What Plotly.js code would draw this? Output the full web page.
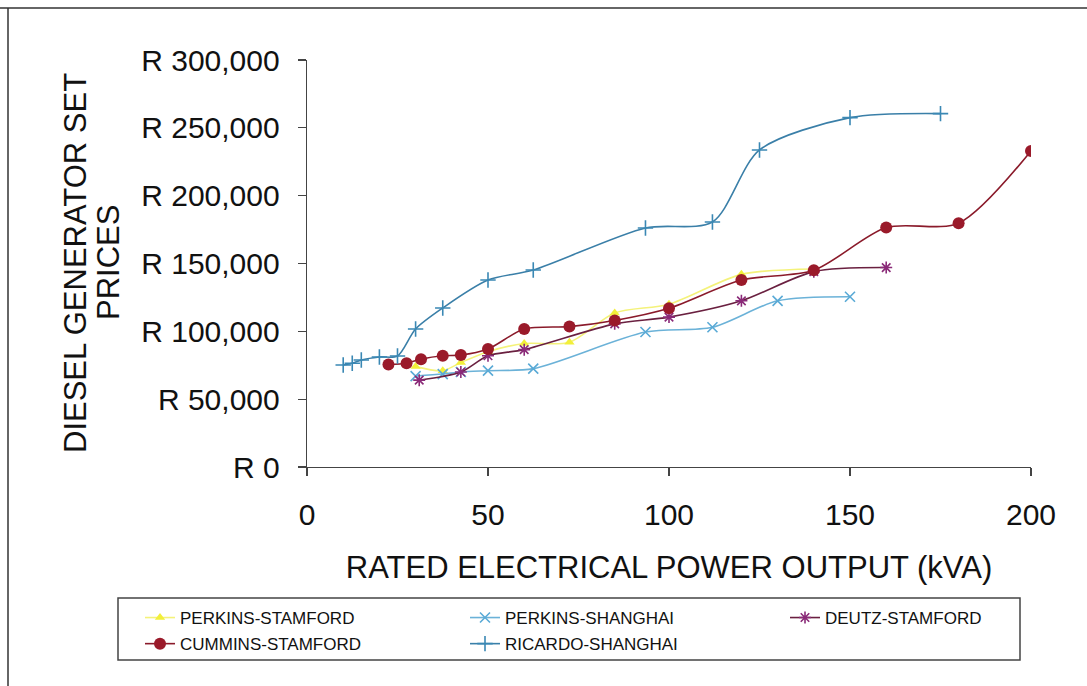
<!DOCTYPE html>
<html>
<head>
<meta charset="utf-8">
<script src="https://cdn.plot.ly/plotly-3.0.1.min.js"></script>
<style>html,body{margin:0;padding:0;background:#fff;}#chart{width:1087px;height:686px;}</style>
</head>
<body>
<div id="chart"></div>
<script>
// ---- data (kVA, Rand) ----
const seriesNames = ["PERKINS-STAMFORD", "PERKINS-SHANGHAI", "DEUTZ-STAMFORD", "CUMMINS-STAMFORD", "RICARDO-SHANGHAI"];

const perkinsStamfordKva   = [30, 37.5, 42.5, 50, 60, 72.5, 85, 100, 120, 140];
const perkinsStamfordPrice = [74000, 71000, 77000, 85000, 91000, 92000, 113500, 120000, 142000, 146000];

const perkinsShanghaiKva   = [30, 37.5, 42.5, 50, 62.5, 93.5, 112, 130, 150];
const perkinsShanghaiPrice = [67000, 68500, 70000, 71000, 72500, 99500, 103000, 122500, 125500];

const deutzStamfordKva   = [31, 42.5, 50, 60, 85, 100, 120, 140, 160];
const deutzStamfordPrice = [64000, 70000, 82000, 86500, 105500, 110500, 122500, 144000, 147000];

const cumminsStamfordKva   = [22.5, 27.5, 31.5, 37.5, 42.5, 50, 60, 72.5, 85, 100, 120, 140, 160, 180, 200];
const cumminsStamfordPrice = [75500, 76500, 79500, 82000, 82500, 87000, 101700, 103500, 108000, 117000, 137800, 145000, 176500, 179700, 233000];

const ricardoShanghaiKva   = [10, 12.5, 15, 20, 25, 30, 37.5, 50, 62.5, 93.5, 112, 125, 150, 175];
const ricardoShanghaiPrice = [75200, 76500, 78900, 81100, 81800, 101700, 117200, 137800, 145200, 176200, 180600, 233700, 257500, 260500];

const yTickVals = [0, 50000, 100000, 150000, 200000, 250000, 300000];
const yTickText = ["R 0", "R 50,000", "R 100,000", "R 150,000", "R 200,000", "R 250,000", "R 300,000"];
const xTickVals = [0, 50, 100, 150, 200];

const xTitle = "RATED ELECTRICAL POWER OUTPUT (kVA)";
const yTitleLines = ["DIESEL GENERATOR SET", "PRICES"];

// ---- geometry ----
const W = 1087, H = 686;
const L = 307, R = 1031, T = 60, B = 467;
const pw = R - L, ph = B - T;
const px = v => (v - L) / pw;
const py = v => (B - v) / ph;

const FONT = "Liberation Sans, Arial, sans-serif";

function mk(name, legend, x, y, color, lineColor, symbol, size, mlw) {
  return {
    type: "scatter", mode: "lines+markers", name: name, x: x, y: y, legend: legend, legendgroup: name,
    line: {color: lineColor, width: 1.6, shape: "spline", smoothing: 0.8},
    marker: {color: color, symbol: symbol, size: size, line: {color: color, width: mlw}},
    hoverinfo: "x+y+name"
  };
}

const data = [
  mk(seriesNames[0], "legend",  perkinsStamfordKva, perkinsStamfordPrice, "#f2ef3a", "#f4f27a", "triangle-up", 9, 0),
  mk(seriesNames[1], "legend2", perkinsShanghaiKva, perkinsShanghaiPrice, "#5aaad6", "#6bb2d8", "x-thin-open", 10, 1.6),
  mk(seriesNames[2], "legend3", deutzStamfordKva, deutzStamfordPrice, "#8a2a78", "#6a2040", "asterisk-open", 10, 1.6),
  mk(seriesNames[3], "legend",  cumminsStamfordKva, cumminsStamfordPrice, "#9a1a2a", "#8a1a2a", "circle", 12, 0),
  mk(seriesNames[4], "legend2", ricardoShanghaiKva, ricardoShanghaiPrice, "#3a88b4", "#3a7fa8", "cross-thin-open", 11, 1.6)
];

function leg(xPix) {
  return {
    orientation: "v", x: px(xPix), y: py(600), xanchor: "left", yanchor: "top",
    bgcolor: "rgba(0,0,0,0)", borderwidth: 0,
    font: {size: 17, family: FONT, color: "#111"},
    itemwidth: 30, tracegroupgap: 1
  };
}

const titleFont = {size: 31, family: FONT, color: "#111"};

const layout = {
  width: W, height: H,
  margin: {l: L, r: W - R, t: T, b: H - B, pad: 0},
  paper_bgcolor: "#ffffff", plot_bgcolor: "#ffffff",
  font: {family: FONT, color: "#111"},
  showlegend: true,
  xaxis: {
    range: [0, 200], tickvals: xTickVals, ticktext: xTickVals.map(String),
    showgrid: false, zeroline: false, showline: true, linecolor: "#444", linewidth: 1.3,
    ticks: "outside", ticklen: 8, tickcolor: "#444", tickwidth: 1.2,
    tickfont: {size: 30, family: FONT, color: "#111"}, ticklabelstandoff: 13,
    title: {text: xTitle, font: {size: 31, family: FONT, color: "#111"}, standoff: 26},
    automargin: false, fixedrange: true
  },
  yaxis: {
    range: [0, 300000], tickvals: yTickVals, ticktext: yTickText,
    showgrid: false, zeroline: false, showline: true, linecolor: "#444", linewidth: 1.3,
    ticks: "outside", ticklen: 8, tickcolor: "#444", tickwidth: 1.2,
    tickfont: {size: 30, family: FONT, color: "#111"}, ticklabelstandoff: 12,
    automargin: false, fixedrange: true
  },
  legend: leg(140),
  legend2: leg(465),
  legend3: leg(785),
  annotations: [
    {text: yTitleLines[0], xref: "paper", yref: "paper", x: px(75), y: py(263), xanchor: "center", yanchor: "middle",
     textangle: -90, showarrow: false, font: titleFont},
    {text: yTitleLines[1], xref: "paper", yref: "paper", x: px(108), y: py(263), xanchor: "center", yanchor: "middle",
     textangle: -90, showarrow: false, font: titleFont}
  ],
  shapes: [
    {type: "rect", xref: "paper", yref: "paper", x0: px(118), x1: px(1020), y0: py(660), y1: py(598),
     line: {color: "#444", width: 1.5}, fillcolor: "rgba(0,0,0,0)", layer: "below"},
    {type: "line", xref: "paper", yref: "paper", x0: px(0), x1: px(1087), y0: py(8), y1: py(8),
     line: {color: "#333", width: 1.5}},
    {type: "line", xref: "paper", yref: "paper", x0: px(8), x1: px(8), y0: py(8), y1: py(686),
     line: {color: "#333", width: 1.5}}
  ]
};

Plotly.newPlot("chart", data, layout, {displayModeBar: false, staticPlot: true});
</script>
</body>
</html>
